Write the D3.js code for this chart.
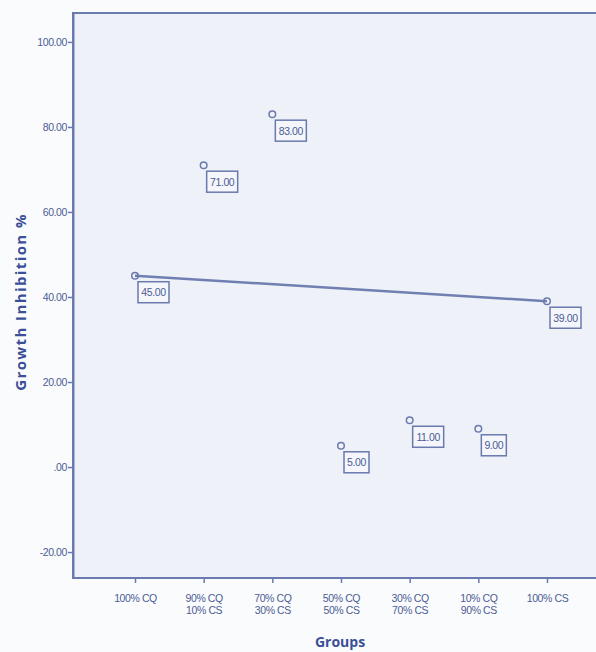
<!DOCTYPE html>
<html>
<head>
<meta charset="utf-8">
<script src="https://cdn.jsdelivr.net/npm/d3@7"></script>
<style>
  body { margin: 0; background: #fafbfd; }
  svg { display: block; }
</style>
</head>
<body>
<svg id="chart" width="596" height="652"></svg>
<script>
var groups = ["100% CQ", "90% CQ|10% CS", "70% CQ|30% CS", "50% CQ|50% CS", "30% CQ|70% CS", "10% CQ|90% CS", "100% CS"];
var inhibition = [45, 71, 83, 5, 11, 9, 39];
var yTicks = [-20, 0, 20, 40, 60, 80, 100];

var axisColor = "#6a7aae", textColor = "#4c5c94", titleColor = "#3b4f98";
var font = "'Liberation Sans', Arial, sans-serif";

var svg = d3.select("#chart");
var plotLeft = 73, plotTop = 13, plotBottom = 578;

var x = d3.scalePoint().domain(groups).range([135, 547]);
var y = d3.scaleLinear().domain([-26.1, 106.8]).range([plotBottom, plotTop]);

// SPSS style numbers: ".00" for zero, plain hyphen for negatives
function spss(d) {
  if (d === 0) return ".00";
  return d3.format(".2f")(d).replace("\u2212", "-");
}

// plot area
svg.append("rect")
    .attr("x", plotLeft).attr("y", plotTop)
    .attr("width", 600 - plotLeft).attr("height", plotBottom - plotTop)
    .style("fill", "#eef1f8")
    .attr("stroke", axisColor)
    .attr("stroke-width", 2);

// y axis
var yAxis = svg.append("g")
    .attr("transform", "translate(" + plotLeft + ",0)")
    .call(d3.axisLeft(y).tickValues(yTicks).tickSize(5).tickSizeOuter(0).tickFormat(spss));
yAxis.select(".domain").attr("stroke", axisColor).attr("stroke-width", 2);
yAxis.selectAll(".tick line").attr("stroke", axisColor).attr("stroke-width", 1.5);
yAxis.selectAll(".tick text")
    .attr("x", -6)
    .style("fill", textColor).style("font-family", font).style("font-size", "10.5px")
    .style("letter-spacing", "-0.4px");

// x axis
var xAxis = svg.append("g")
    .attr("transform", "translate(0," + plotBottom + ")")
    .call(d3.axisBottom(x).tickSize(5).tickSizeOuter(0).tickFormat(""));
xAxis.select(".domain").remove();
xAxis.selectAll(".tick line").attr("stroke", axisColor).attr("stroke-width", 1.5);
xAxis.selectAll(".tick").each(function(d) {
  var t = d3.select(this).append("text")
      .attr("text-anchor", "middle")
      .style("fill", textColor).style("font-family", font).style("font-size", "10.5px")
      .style("letter-spacing", "-0.4px");
  d.split("|").forEach(function(line, i) {
    t.append("tspan").attr("x", 0).attr("y", 24 + i * 12).text(line);
  });
});

// line between first and last group
var ends = [0, groups.length - 1];
svg.append("path")
    .datum(ends)
    .attr("d", d3.line()
      .x(function(i) { return x(groups[i]); })
      .y(function(i) { return y(inhibition[i]); }))
    .attr("stroke", "#6f7fb2")
    .attr("stroke-width", 2.5)
    .attr("fill", "none");

// points
var pts = svg.append("g").selectAll("g")
    .data(groups)
    .enter().append("g")
    .attr("transform", function(d, i) { return "translate(" + x(d) + "," + y(inhibition[i]) + ")"; });

pts.append("circle")
    .attr("r", 3.3)
    .attr("fill", "none")
    .attr("stroke", axisColor)
    .attr("stroke-width", 1.5);

pts.append("rect")
    .attr("x", 3).attr("y", 6)
    .attr("width", function(d, i) { return inhibition[i] < 10 ? 25 : 31; })
    .attr("height", 21)
    .attr("fill", "#f4f6fb")
    .attr("stroke", axisColor)
    .attr("stroke-width", 1.5);

pts.append("text")
    .attr("x", function(d, i) { return 3 + (inhibition[i] < 10 ? 12.5 : 15.5); })
    .attr("y", 20.5)
    .attr("text-anchor", "middle")
    .style("fill", textColor).style("font-family", font).style("font-size", "10.5px")
    .style("letter-spacing", "-0.4px")
    .text(function(d, i) { return spss(inhibition[i]); });

// axis titles
svg.append("text")
    .attr("transform", "translate(26,302) rotate(-90)")
    .attr("text-anchor", "middle")
    .style("fill", titleColor).style("font-family", "'Open Sans', sans-serif")
    .style("font-weight", "bold").style("font-size", "15px")
    .style("letter-spacing", "1.4px")
    .text("Growth Inhibition %");

svg.append("text")
    .attr("x", 340).attr("y", 647)
    .attr("text-anchor", "middle")
    .style("fill", titleColor).style("font-family", "'Open Sans', sans-serif")
    .style("font-weight", "bold").style("font-size", "14px")
    .text("Groups");
</script>
</body>
</html>
